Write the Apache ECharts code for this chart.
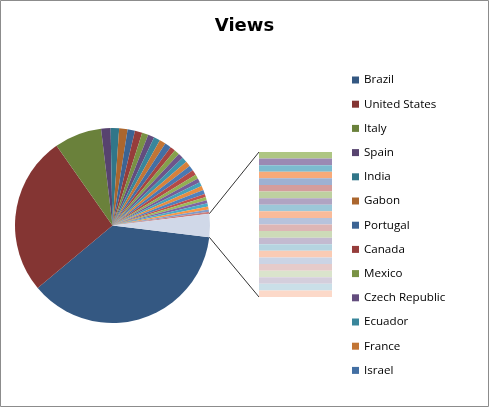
<!DOCTYPE html>
<html><head><meta charset="utf-8">
<script src="https://cdn.jsdelivr.net/npm/echarts@6/dist/echarts.min.js"></script>
<style>html,body{margin:0;padding:0;background:#fff}#c{width:489px;height:407px}</style>
</head><body><div id="c"></div>
<script>
const countries = ['Brazil','United States','Italy','Spain','India','Gabon','Portugal','Canada','Mexico','Czech Republic','Ecuador','France','Israel',
 'Germany','United Kingdom','Argentina','Russia','Japan','Australia','Netherlands','Poland','Colombia','Chile','Peru','Venezuela','Angola','Mozambique',
 'Romania','Turkey','Greece','Belgium','Switzerland','Sweden','Norway','Denmark','Finland','Ireland','Austria','Hungary','Ukraine','China','South Korea',
 'Indonesia','Philippines','Malaysia','Thailand','Vietnam','Egypt','Morocco','South Africa','Nigeria','Kenya','Cameroon','Senegal'];
const views = [212,151,45,9, 8,8,7,7,6,6,6,6,6, 5,5,5,5,5,5,5, 4,4,4,4,4, 3,3,3,3,3, 2,2,
 1,1,1,1,1,1,1,1,1,1,1,1,1,1,1,1,1,1,1,1,1,1];
const barCount = 22;           // last points shown in the bar
const legendNames = countries.slice(0, 13);
const otherName = 'Other';
const chartTitle = 'Views';

const accents = ['#4F81BD','#C0504D','#9BBB59','#8064A2','#4BACC6','#F79646'];
function toLin(c){c/=255;return c<=0.04045?c/12.92:Math.pow((c+0.055)/1.055,2.4);}
function toS(l){const v=l<=0.0031308?l*12.92:1.055*Math.pow(l,1/2.4)-0.055;return Math.round(Math.max(0,Math.min(1,v))*255);}
function excelColor(i,n){
  const base=accents[i%6];const cyc=Math.floor(i/6),maxC=Math.floor((n-1)/6);
  const t=(cyc+1)/(maxC+2)*1.4-0.7;
  const rgb=[1,3,5].map(k=>parseInt(base.substr(k,2),16));
  const out=rgb.map(c=>{let l=toLin(c);if(t<0)l=l*(1+t);else if(t>0)l=l*(1-t)+t;return toS(l);});
  return 'rgb('+out.join(',')+')';
}

const N = countries.length;
const headN = N - barCount;
const colors = countries.map((_,i)=>excelColor(i,N));
const total = views.reduce((a,b)=>a+b,0);
const otherVal = views.slice(headN).reduce((a,b)=>a+b,0);
const otherAngle = otherVal/total*360;

const cx=112.5, cy=225.5, R=97.5;
const bar = {left:259, top:152, width:73, height:145};

const pieData = countries.slice(0,headN).map((n,i)=>({name:n,value:views[i],itemStyle:{color:colors[i]}}));
pieData.push({name:otherName,value:otherVal,itemStyle:{color:'#D0D8E8'}});

const barSeries = countries.slice(headN).map((n,j)=>({
  type:'bar', name:n, stack:'other', xAxisIndex:0, yAxisIndex:0,
  data:[views[headN+j]], barWidth:'100%', itemStyle:{color:colors[headN+j]}, silent:true
}));

const a = otherAngle/2*Math.PI/180;
const p1=[cx+R*Math.cos(a), cy-R*Math.sin(a)];
const p2=[cx+R*Math.cos(a), cy+R*Math.sin(a)];

const chart = echarts.init(document.getElementById('c'), null, {renderer:'canvas'});
chart.setOption({
  animation:false,
  backgroundColor:'#fff',
  title:{text:chartTitle,left:'center',top:12,textStyle:{fontFamily:'DejaVu Sans',fontWeight:'bold',fontSize:18,color:'#000'}},
  legend:{data:legendNames,orient:'vertical',left:352,top:73,padding:0,itemWidth:7,itemHeight:7,itemGap:10.2,icon:'rect',
    textStyle:{fontFamily:'Open Sans',fontSize:11.6,lineHeight:14,color:'#000'},selectedMode:false},
  grid:{left:bar.left,top:bar.top,width:bar.width,height:bar.height},
  xAxis:{type:'category',data:[''],show:false},
  yAxis:{type:'value',min:0,max:otherVal,inverse:true,show:false},
  series:[{
    type:'pie', center:[cx,cy], radius:R, startAngle:-otherAngle/2, clockwise:true,
    label:{show:false}, labelLine:{show:false}, itemStyle:{borderWidth:0}, data:pieData, silent:true
  }].concat(barSeries),
  graphic:[
    {type:'rect',shape:{x:0.5,y:0.5,width:488,height:406},style:{fill:null,stroke:'#8c8c8c',lineWidth:1}},
    {type:'line',shape:{x1:p1[0],y1:p1[1],x2:bar.left,y2:bar.top},style:{stroke:'#333',lineWidth:1}},
    {type:'line',shape:{x1:p2[0],y1:p2[1],x2:bar.left,y2:bar.top+bar.height},style:{stroke:'#333',lineWidth:1}}
  ]
});
</script></body></html>
